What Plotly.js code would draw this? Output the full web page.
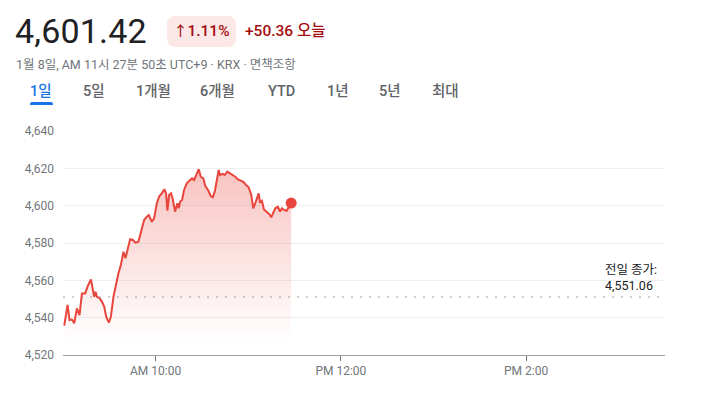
<!DOCTYPE html>
<html>
<head>
<meta charset="utf-8">
<script src="https://cdn.plot.ly/plotly-3.0.1.min.js"></script>
<style>
  html, body { margin: 0; padding: 0; background: #fff; width: 702px; height: 395px; overflow: hidden; }
  body { font-family: Roboto, "Noto Sans CJK KR", sans-serif; position: relative; }
  #chart { position: absolute; left: 0; top: 0; width: 702px; height: 395px; }
  .abs { position: absolute; z-index: 10; white-space: nowrap; }
  #price { left: 15px; top: 11px; font-size: 34px; color: #202124; letter-spacing: 0.2px; }
  #pill { left: 167px; top: 16px; width: 69px; height: 31px; background: #fce8e6; border-radius: 8px;
          color: #a50e0e; font-size: 15.5px; font-weight: 500; line-height: 31px; text-align: center; }
  #chg { left: 245px; top: 16px; line-height: 31px; color: #a50e0e; font-size: 15.5px; font-weight: 500; }
  #sub { left: 16px; top: 54px; font-size: 12.5px; color: #70757a; }
  .tab { top: 82px; height: 20px; line-height: 20px; font-size: 14.5px; color: #5f6368; font-weight: 500; }
  .tab.on { color: #1a73e8; }
  #uline { left: 30px; top: 102px; width: 23px; height: 3px; background: #1a73e8; border-radius: 2px 2px 0 0; }
</style>
</head>
<body>
<div id="chart"></div>
<div id="header"></div>
<script>
// ---- data ----
var sessionDate = '2026-01-08';
var times = ['09:00:49','09:02:57','09:04:14','09:05:47','09:07:17','09:09:01','09:10:42','09:12:16','09:14:24','09:15:53',
  '09:18:05','09:19:22','09:20:13','09:21:04','09:21:58','09:23:39','09:25:12','09:26:41','09:27:59','09:29:43',
  '09:31:01','09:32:42','09:34:00','09:35:56','09:37:29','09:39:10','09:40:28','09:41:45','09:43:30','09:45:15',
  '09:46:56','09:48:52','09:51:04','09:52:33','09:54:18','09:55:36','09:57:32','09:59:02','10:00:47','10:02:28',
  '10:04:01','10:05:41','10:06:47','10:07:38','10:08:44','10:10:02','10:11:08','10:12:37','10:14:06','10:15:01',
  '10:15:51','10:17:08','10:18:26','10:20:11','10:21:52','10:23:37','10:24:54','10:26:39','10:27:56','10:29:14',
  '10:30:55','10:32:13','10:33:58','10:35:43','10:37:00','10:38:18','10:39:35','10:40:53','10:41:44','10:43:28',
  '10:44:46','10:46:27','10:48:12','10:49:56','10:51:37','10:53:22','10:55:07','10:56:48','10:58:33','11:00:17',
  '11:01:59','11:03:16','11:04:34','11:05:52','11:06:46','11:07:36','11:08:54','11:10:11','11:11:56','11:13:37',
  '11:14:55','11:16:13','11:17:30','11:19:15','11:20:32','11:21:50','11:23:08','11:24:53','11:26:10','11:27:50'];
var values = [4535.7,4546.8,4538.7,4539.0,4537.0,4545.0,4541.4,4553.0,4553.0,4556.6,
  4560.5,4555.7,4551.2,4553.9,4551.2,4550.4,4548.6,4545.9,4540.5,4537.3,
  4540.5,4551.2,4557.0,4563.8,4568.2,4575.3,4571.8,4576.2,4582.0,4581.6,
  4580.2,4580.7,4587.0,4592.3,4594.1,4595.0,4591.4,4593.2,4601.3,4605.2,
  4606.6,4608.8,4606.6,4597.3,4605.7,4606.6,4603.4,4596.8,4601.3,4598.6,
  4602.1,4603.0,4608.4,4612.0,4613.4,4614.6,4613.7,4617.3,4619.5,4615.5,
  4614.6,4610.5,4608.4,4605.2,4604.5,4607.5,4613.7,4619.1,4616.4,4617.0,
  4616.4,4618.2,4617.3,4616.4,4615.5,4614.1,4613.4,4612.8,4611.1,4609.8,
  4605.7,4598.6,4601.3,4603.9,4606.6,4601.6,4602.6,4598.0,4596.8,4595.4,
  4593.8,4595.9,4598.6,4599.4,4596.8,4598.6,4597.7,4597.3,4598.9,4601.42];
var prevClose = 4551.06;
var lastPrice = 4601.42;
var changeAbs = 50.36;
var changePct = 1.11;
var yTicks = [4520, 4540, 4560, 4580, 4600, 4620, 4640];
var xTickTimes = ['10:00', '12:00', '14:00'];
var xTickLabels = ['AM 10:00', 'PM 12:00', 'PM 2:00'];
var sessionStart = '09:00', sessionEnd = '15:30';
var tabs = ['1일', '5일', '1개월', '6개월', 'YTD', '1년', '5년', '최대'];
var tabX = [30, 83, 136, 200, 268, 327, 379, 432];
var subtitle = '1월 8일, AM 11시 27분 50초 UTC+9 · KRX · 면책조항';
var closeLabel = '전일 종가:';

// ---- header (HTML text) ----
function fmt(v) { return v.toLocaleString('en-US', {minimumFractionDigits: 2, maximumFractionDigits: 2}); }
var h = document.getElementById('header');
var html = '';
html += '<div class="abs" id="price">' + fmt(lastPrice) + '</div>';
html += '<div class="abs" id="pill"><span style="font-size:14px">&#8593;</span>' + changePct.toFixed(2) + '%</div>';
html += '<div class="abs" id="chg">+' + changeAbs.toFixed(2) + ' 오늘</div>';
html += '<div class="abs" id="sub">' + subtitle + '</div>';
tabs.forEach(function (t, i) {
  html += '<div class="abs tab' + (i === 0 ? ' on' : '') + '" style="left:' + tabX[i] + 'px">' + t + '</div>';
});
html += '<div class="abs" id="uline"></div>';
h.innerHTML = html;

// ---- chart ----
var xs = times.map(function (t) { return sessionDate + ' ' + t; });
var red = '#e8453c';
var font = 'Roboto, "Noto Sans CJK KR", sans-serif';

var traces = [
  {
    x: xs, y: values, type: 'scatter', mode: 'lines',
    line: {color: red, width: 2},
    fill: 'tozeroy',
    fillgradient: {type: 'vertical', start: 4528, stop: 4620,
      colorscale: [[0, 'rgba(232,69,60,0)'], [1, 'rgba(232,69,60,0.32)']]},
    hoverinfo: 'skip'
  },
  {
    x: [xs[xs.length - 1]], y: [values[values.length - 1]], type: 'scatter', mode: 'markers',
    marker: {color: red, size: 11}, hoverinfo: 'skip'
  }
];

var layout = {
  width: 702, height: 395,
  margin: {l: 62.75, r: 37, t: 131, b: 40, pad: 0},
  paper_bgcolor: 'rgba(0,0,0,0)', plot_bgcolor: 'rgba(0,0,0,0)',
  showlegend: false,
  font: {family: font, color: '#70757a', size: 12},
  xaxis: {
    type: 'date',
    range: [sessionDate + ' ' + sessionStart, sessionDate + ' ' + sessionEnd],
    tickvals: xTickTimes.map(function (t) { return sessionDate + ' ' + t; }),
    ticktext: xTickLabels,
    showgrid: false, zeroline: false,
    showline: true, linecolor: '#9aa0a6', linewidth: 1,
    ticks: 'outside', ticklen: 5, tickcolor: '#70757a', tickwidth: 1,
    tickfont: {family: font, size: 12, color: '#70757a'},
    fixedrange: true
  },
  yaxis: {
    range: [yTicks[0], yTicks[yTicks.length - 1]],
    tickvals: yTicks,
    ticktext: yTicks.map(function (v) { return v.toLocaleString('en-US'); }),
    showgrid: true, gridcolor: '#eeeff1', gridwidth: 1,
    zeroline: false, showline: false, ticks: '',
    ticklabelstandoff: 8,
    tickfont: {family: font, size: 12, color: '#70757a'},
    fixedrange: true
  },
  shapes: [{
    type: 'line', xref: 'paper', yref: 'y', x0: 0, x1: 0.993, y0: prevClose, y1: prevClose,
    line: {color: '#9aa0a6', width: 1, dash: '2px,7px'}, layer: 'below'
  }],
  annotations: [{
    xref: 'paper', yref: 'y', x: 0.897, y: prevClose + 10.6,
    xanchor: 'left', yanchor: 'middle', align: 'left', showarrow: false,
    text: closeLabel + '<br>' + fmt(prevClose),
    font: {family: font, size: 12.5, color: '#202124'}
  }]
};

Plotly.newPlot('chart', traces, layout, {staticPlot: true, displayModeBar: false});
</script>
</body>
</html>
